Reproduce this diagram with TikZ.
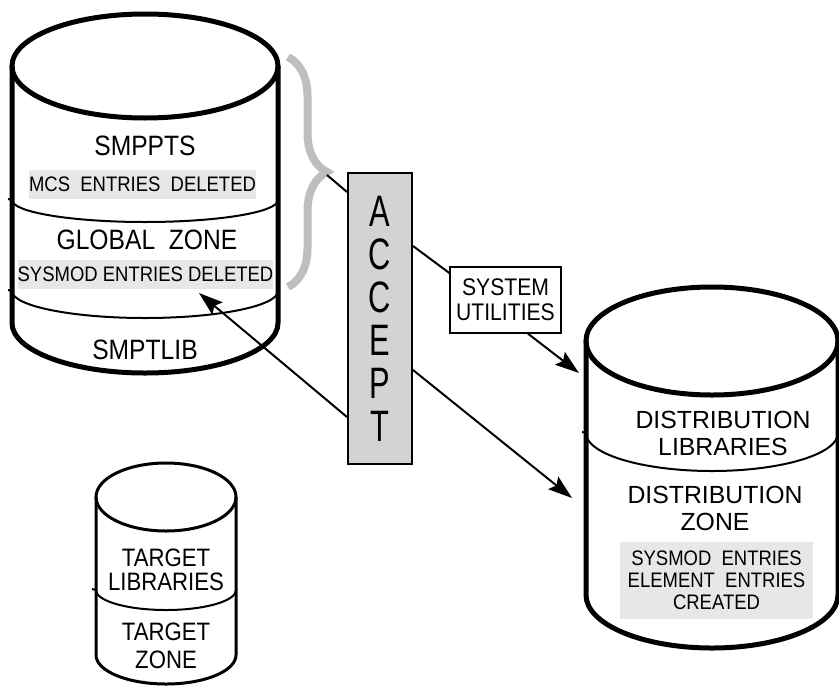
\documentclass[tikz,border=0pt]{standalone}
\usepackage{fontspec}
\setmainfont[FakeStretch=0.88]{Liberation Sans}
\newfontfamily\tallfont[FakeStretch=0.7]{Liberation Sans}
\newfontfamily\widefont{Liberation Sans}
\usetikzlibrary{arrows.meta,decorations.pathreplacing}

\definecolor{acceptgray}{RGB}{209,211,212}
\definecolor{boxgray}{RGB}{230,231,232}
\definecolor{bracegray}{RGB}{188,190,192}

\begin{document}
\begin{tikzpicture}[x=0.5pt,y=-0.5pt]
      \tikzstyle{every node}+=[inner sep=0pt]
      \tikzstyle{drum}=[black, line width=2.5pt]
      \tikzstyle{smalldrum}=[black, line width=1.5pt]
      \tikzstyle{split}=[black, line width=1pt]
      \tikzstyle{bigtext}=[font=\fontsize{14}{16}\selectfont]
      \tikzstyle{midtext}=[font=\fontsize{12.6}{13.5}\selectfont, align=center]
      \tikzstyle{disttext}=[font=\widefont\fontsize{12.4}{13.5}\selectfont, align=center]
      \tikzstyle{entrybox}=[fill=boxgray, font=\fontsize{10.5}{11}\selectfont, align=center]
      \tikzstyle{flow}=[black, line width=1pt, -{Stealth[length=12pt,width=8pt,inset=2pt]}]
      \useasboundingbox (0,0) rectangle (839,685);
      % SMPPTS / global zone / SMPTLIB
      \draw [drum] (145,66) ellipse [x radius=133, y radius=52];
      \draw [drum] (12,66) -- (12,323) arc [start angle=180, end angle=0, x radius=133, y radius=50] -- (278,66);
      \draw [split] (8,199) -- (12,200) arc [start angle=180, end angle=0, x radius=133, y radius=22];
      \draw [split] (8,290) -- (12,291) arc [start angle=180, end angle=0, x radius=133, y radius=27];
      \node [bigtext] (smppts) at (145,146) {SMPPTS};
      \node [entrybox, minimum width=113.5pt, minimum height=14.5pt] (mcsdel) at (142.5,184.5) {MCS~~ENTRIES~~DELETED};
      \node [bigtext] (global) at (147,240) {GLOBAL~~ZONE};
      \node [entrybox, minimum width=125.5pt, minimum height=14.5pt] (sysdel) at (145.5,274.5) {SYSMOD ENTRIES DELETED};
      \node [bigtext] (smptlib) at (145,350) {SMPTLIB};
      \coordinate (globin) at (199,293);
      % brace
      \draw [bracegray, line width=4pt, decorate, decoration={brace, amplitude=19.5pt}] (288,57) -- (288,287);
      \coordinate (bracetip) at (327,175);
      % accept
      \node [draw, fill=acceptgray, line width=1pt, minimum width=32pt, minimum height=145.5pt,
             align=center, font=\tallfont\fontsize{22}{21.5}\selectfont] (accept) at (380,318.5) {A\\C\\C\\E\\P\\T};
      \node [draw, line width=0.7pt, minimum width=55.5pt, minimum height=33pt,
             align=center, font=\fontsize{12}{12.5}\selectfont] (utils) at (505.5,300) {SYSTEM\\UTILITIES};
      % distribution
      \draw [drum] (712,341) ellipse [x radius=126, y radius=54];
      \draw [drum] (586,341) -- (586,595) arc [start angle=180, end angle=0, x radius=126, y radius=53] -- (838,341);
      \draw [split] (582,432) -- (586,433) arc [start angle=180, end angle=0, x radius=126, y radius=38];
      \node [disttext] (distlib) at (723,433.5) {DISTRIBUTION\\LIBRARIES};
      \node [disttext] (distzone) at (715,508.5) {DISTRIBUTION\\ZONE};
      \node [entrybox, minimum width=96.5pt, minimum height=38.5pt] (created) at (716.5,580.5) {SYSMOD~~ENTRIES\\ELEMENT~~ENTRIES\\CREATED};
      \coordinate (distin1) at (579,373);
      \coordinate (distin2) at (572,498);
      % target
      \draw [smalldrum] (166,497) ellipse [x radius=70, y radius=34];
      \draw [smalldrum] (96,497) -- (96,655) arc [start angle=180, end angle=0, x radius=70, y radius=29] -- (236,497);
      \draw [split] (92,589) -- (96,590) arc [start angle=180, end angle=0, x radius=70, y radius=20];
      \node [midtext, font=\fontsize{12.6}{12}\selectfont] (targetlib) at (166,570) {TARGET\\LIBRARIES};
      \node [midtext, font=\fontsize{12.6}{14}\selectfont] (targetzone) at (166,646) {TARGET\\ZONE};
      % connectors
      \draw [black, line width=1pt] (bracetip) -- ([yshift=63.25pt]accept.west);
      \draw [black, line width=1pt] ([yshift=36.25pt]accept.east) -- ([yshift=13.5pt]utils.west);
      \draw [flow] ([xshift=11.25pt]utils.south) -- (distin1);
      \draw [flow] ([yshift=-25.75pt]accept.east) -- (distin2);
      \draw [flow] ([yshift=-49.25pt]accept.west) -- (globin);
\end{tikzpicture}
\end{document}
